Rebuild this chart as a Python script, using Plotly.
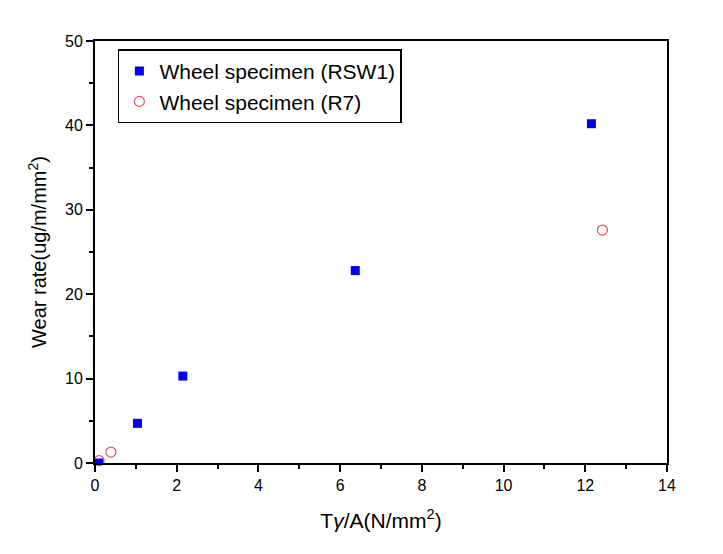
import plotly.graph_objects as go

rsw1_x = [0.1, 1.04, 2.15, 6.37, 12.15]
rsw1_y = [0.0, 4.7, 10.3, 22.8, 40.2]
r7_x = [0.1, 0.39, 12.42]
r7_y = [0.27, 1.3, 27.6]

fig = go.Figure()
fig.add_trace(go.Scatter(x=rsw1_x, y=rsw1_y, mode="markers", name="Wheel specimen (RSW1)",
                         marker=dict(symbol="square", size=9, color="#0000ff", line=dict(width=0)),
                         cliponaxis=True))
fig.add_trace(go.Scatter(x=r7_x, y=r7_y, mode="markers", name="Wheel specimen (R7)",
                         marker=dict(symbol="circle-open", size=10, color="#e8505b", line=dict(width=1.2)),
                         cliponaxis=False))

font = "Liberation Sans, Arial, sans-serif"
axis_common = dict(showline=True, linecolor="black", linewidth=2, mirror=True,
                   ticks="outside", ticklen=7, tickwidth=2, tickcolor="black",
                   showgrid=False, zeroline=False, automargin=False,
                   tickfont=dict(family=font, size=16, color="black"))
fig.update_xaxes(range=[0, 14], dtick=2, tick0=0,
                 minor=dict(dtick=1, ticks="outside", ticklen=4, tickwidth=2, tickcolor="black"),
                 title=dict(text="T<i>γ</i>/A(N/mm<sup>2</sup>)", font=dict(family=font, size=21, color="black"), standoff=20),
                 **axis_common)
fig.update_yaxes(range=[0, 50], dtick=10, tick0=0,
                 minor=dict(dtick=5, ticks="outside", ticklen=4, tickwidth=2, tickcolor="black"),
                 title=dict(text="Wear rate(ug/m/mm<sup>2</sup>)", font=dict(family=font, size=20, color="black"), standoff=13),
                 **axis_common)
fig.update_layout(width=723, height=554, plot_bgcolor="white", paper_bgcolor="white",
                  margin=dict(l=87, r=64, t=33, b=99),
                  font=dict(family=font, color="black"),
                  legend=dict(x=0.04, y=0.98, xanchor="left", yanchor="top",
                              bordercolor="black", borderwidth=1.5, bgcolor="white",
                              font=dict(family=font, size=21, color="black"),
                              tracegroupgap=0, itemsizing="trace"),
                  showlegend=True)
fig.write_html("out.html")
